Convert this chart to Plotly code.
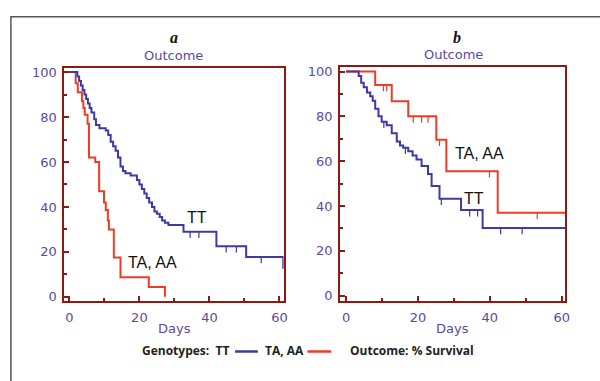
import plotly.graph_objects as go

# ---- data ----
# Panel a
a_tt_t = [0, 2.3, 2.8, 3.3, 3.8, 4.3, 4.8, 5.3, 5.8, 6.3, 7.1, 7.6, 8.6, 10.4, 11.1, 11.8, 12.5, 13.2, 13.9, 14.6,
          15.3, 16.0, 17.5, 19.3, 20.0, 20.7, 21.4, 22.1, 22.8, 23.6, 24.3, 25.0, 25.8, 26.5, 27.3, 28.3, 32.6, 42.0, 50.5, 61.1]
a_tt_v = [100, 98, 96, 94, 92, 90, 88, 86, 84, 82, 79, 76.5, 75, 74, 72, 69, 67, 65, 62, 58,
          56, 55, 54, 52, 50, 48, 46, 44, 42, 40, 38, 37, 35.5, 34, 33, 32, 29, 22.5, 17.7, 12.5]
a_tt_cens_t = [34.5, 37.0, 44.8, 47.7, 54.8]
a_tt_cens_v = [29, 29, 22.5, 22.5, 17.7]

a_ta_t = [0, 1.8, 2.4, 3.6, 4.0, 4.4, 5.2, 5.6, 7.4, 8.5, 9.9, 10.4, 11.0, 11.3, 12.7, 14.6, 22.7, 27.3]
a_ta_v = [100, 95, 91, 87, 84, 81, 77, 62, 60, 47, 42, 38.6, 34, 30, 17.5, 8.7, 4.4, 0]

# Panel b
b_tt_t = [0, 3.5, 4.2, 4.9, 5.8, 6.7, 7.4, 8.1, 9.0, 9.9, 11.3, 12.7, 14.1, 15.0, 15.9, 17.3, 18.5, 19.6, 21.0,
          22.8, 23.8, 26.0, 32.0, 38.0]
b_tt_v = [100, 98, 95, 93, 90.7, 89, 87, 83.4, 80, 77.6, 76, 72.5, 68.8, 67, 66, 64.5, 62.5, 60.8, 57.9,
          54.3, 49, 43.3, 38.2, 30.2]
b_tt_cens_t = [10.5, 16.5, 26.5, 34.4, 36.6, 43.0, 49.0]
b_tt_cens_v = [77.6, 66, 43.3, 38.2, 38.2, 30.2, 30.2]

b_ta_t = [0, 8.1, 12.7, 17.3, 25.1, 27.9, 42.2]
b_ta_v = [100, 94, 86.7, 80, 69.6, 55.5, 37]
b_ta_cens_t = [10.4, 11.3, 18.7, 21.0, 22.8, 26.0, 39.9, 53.2]
b_ta_cens_v = [94, 94, 80, 80, 80, 69.6, 55.5, 37]

x_end = 61.0
y_ticks = [0, 20, 40, 60, 80, 100]
x_ticks = [0, 20, 40, 60]

BLUE = "#3b3aa6"
RED = "#f23a25"
FRAME = "#8a1a12"
PURPLE = "#5b4aa2"

W, H = 600, 381

def px(x):
    return x / W

def py(y):
    return 1 - y / H

fig = go.Figure()

def add_curve(t, v, color, xa, ya, extend=True):
    tt = list(t)
    vv = list(v)
    if extend and tt[-1] < x_end:
        tt.append(x_end)
        vv.append(vv[-1])
    fig.add_trace(go.Scatter(x=tt, y=vv, mode="lines", line=dict(color=color, width=2, shape="hv"),
                             xaxis=xa, yaxis=ya, showlegend=False, hoverinfo="skip"))

def add_cens(t, v, color, xa, ya):
    xs, ys = [], []
    for ti, vi in zip(t, v):
        xs += [ti, ti, None]
        ys += [vi, vi - 2.8, None]
    fig.add_trace(go.Scatter(x=xs, y=ys, mode="lines", line=dict(color=color, width=1.2),
                             xaxis=xa, yaxis=ya, showlegend=False, hoverinfo="skip"))

# panel a
add_curve(a_ta_t, a_ta_v, RED, "x", "y", extend=False)
add_curve(a_tt_t, a_tt_v, BLUE, "x", "y", extend=False)
add_cens(a_tt_cens_t, a_tt_cens_v, BLUE, "x", "y")
# panel b
add_curve(b_ta_t, b_ta_v, RED, "x2", "y2")
add_curve(b_tt_t, b_tt_v, BLUE, "x2", "y2")
add_cens(b_ta_cens_t, b_ta_cens_v, RED, "x2", "y2")
add_cens(b_tt_cens_t, b_tt_cens_v, BLUE, "x2", "y2")

tickfont = dict(family="DejaVu Sans", size=13, color=PURPLE)

def xax(domain, rng):
    return dict(domain=domain, range=rng, tickvals=x_ticks, ticks="inside", ticklen=5, tickwidth=1.5,
                tickcolor=FRAME, showline=True, mirror=True, linecolor=FRAME, linewidth=2,
                showgrid=False, zeroline=False, tickfont=tickfont, ticklabelstandoff=3,
                minor=dict(dtick=10, tick0=0, ticks="inside", ticklen=3, tickcolor=FRAME, showgrid=False))

def yax(domain, rng, anchor):
    return dict(domain=domain, range=rng, tickvals=y_ticks, ticks="inside", ticklen=5, tickwidth=1.5,
                tickcolor=FRAME, showline=True, mirror=True, linecolor=FRAME, linewidth=2,
                showgrid=False, zeroline=False, tickfont=tickfont, anchor=anchor, ticklabelstandoff=3,
                minor=dict(dtick=10, tick0=0, ticks="inside", ticklen=3, tickcolor=FRAME, showgrid=False))

fig.update_layout(
    width=W, height=H,
    margin=dict(l=0, r=0, t=0, b=0),
    paper_bgcolor="white", plot_bgcolor="white",
    xaxis=xax([px(65), px(286)], [-1.4, 61.2]) | dict(anchor="y"),
    yaxis=yax([py(302.7), py(65.7)], [-1.9, 101.6], "x"),
    xaxis2=xax([px(343), px(570)], [-1.66, 61.0]) | dict(anchor="y2"),
    yaxis2=yax([py(302.7), py(64)], [-2.4, 102.1], "x2"),
    showlegend=False,
)

ann = []
def txt(x, y, s, size, color, family="DejaVu Sans", xanchor="center"):
    ann.append(dict(x=px(x), y=py(y), xref="paper", yref="paper", text=s, showarrow=False,
                    xanchor=xanchor, yanchor="middle",
                    font=dict(family=family, size=size, color=color)))

txt(175, 34, "<b><i>a</i></b>", 16, "#111", family="Liberation Serif")
txt(175, 52, "Outcome", 13, PURPLE)
txt(461, 34, "<b><i>b</i></b>", 16, "#111", family="Liberation Serif")
txt(457, 51, "Outcome", 13, PURPLE)
txt(176, 331, "Days", 13, PURPLE)
txt(456, 331, "Days", 13, PURPLE)
txt(199, 218, "TT", 16, "#111", family="Liberation Sans")
txt(154, 263, "TA, AA", 16, "#111", family="Liberation Sans")
txt(484, 152, "TA, AA", 16, "#111", family="Liberation Sans")
txt(478, 198, "TT", 16, "#111", family="Liberation Sans")

# legend row
txt(141, 353, "<b>Genotypes:  TT</b>", 12, "#222", family="Open Sans", xanchor="left")
txt(265, 353, "<b>TA, AA</b>", 12, "#222", family="Open Sans", xanchor="left")
txt(351, 353, "<b>Outcome: % Survival</b>", 12, "#222", family="Open Sans", xanchor="left")
fig.update_layout(annotations=ann)

shapes = [
    dict(type="line", xref="paper", yref="paper", x0=px(237), x1=px(260), y0=py(354), y1=py(354),
         line=dict(color=BLUE, width=2.5)),
    dict(type="line", xref="paper", yref="paper", x0=px(310), x1=px(334), y0=py(354), y1=py(354),
         line=dict(color=RED, width=2.5)),
    dict(type="rect", xref="paper", yref="paper", x0=px(11), x1=1.05, y0=-0.05, y1=py(13),
         line=dict(color="#555", width=1.5), layer="below"),
]
fig.update_layout(shapes=shapes)

fig.write_html("out.html")
